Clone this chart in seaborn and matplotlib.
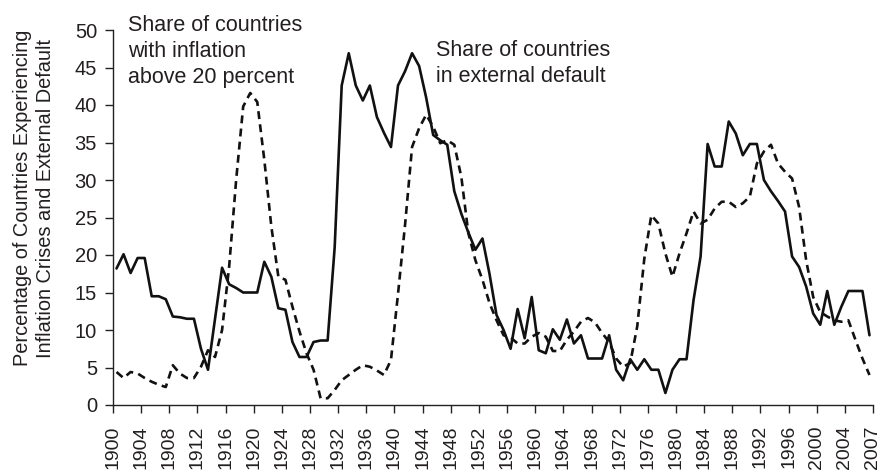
import matplotlib
matplotlib.use("Agg")
import matplotlib.pyplot as plt
import seaborn as sns
import pandas as pd
import numpy as np

years = list(range(1900, 2008))

external_default = [
    18.2, 20.1, 17.6, 19.6, 19.6, 14.5, 14.5, 14.1, 11.8, 11.7,   # 1900-1909
    11.5, 11.5, 7.5, 4.7, 11.5, 18.3, 16.1, 15.6, 15.0, 15.0,     # 1910-1919
    15.0, 19.1, 17.1, 12.9, 12.7, 8.4, 6.4, 6.4, 8.4, 8.6,        # 1920-1929
    8.6, 21.0, 42.6, 46.9, 42.6, 40.6, 42.6, 38.4, 36.3, 34.4,    # 1930-1939
    42.6, 44.5, 46.9, 45.2, 41.0, 36.0, 35.3, 34.7, 28.5, 25.5,   # 1940-1949
    23.0, 20.7, 22.2, 17.5, 12.0, 10.0, 7.5, 12.8, 8.9, 14.4,     # 1950-1959
    7.3, 6.9, 10.1, 8.7, 11.4, 8.2, 9.3, 6.2, 6.2, 6.2,           # 1960-1969
    9.3, 4.7, 3.3, 6.1, 4.7, 6.1, 4.7, 4.7, 1.6, 4.7,             # 1970-1979
    6.1, 6.1, 14.0, 19.8, 34.8, 31.8, 31.8, 37.8, 36.2, 33.3,     # 1980-1989
    34.8, 34.8, 30.0, 28.5, 27.2, 25.8, 19.8, 18.4, 15.8, 12.2,   # 1990-1999
    10.7, 15.2, 10.7, 13.1, 15.2, 15.2, 15.2, 9.3,                # 2000-2007
]

inflation_above_20 = [
    4.4, 3.6, 4.4, 4.2, 3.6, 3.1, 2.7, 2.4, 5.3, 4.2,             # 1900-1909
    3.6, 3.6, 5.1, 7.3, 6.4, 10.0, 18.4, 30.0, 39.8, 41.6,        # 1910-1919
    40.4, 32.7, 23.8, 17.1, 16.7, 13.1, 9.8, 6.9, 4.7, 0.9,       # 1920-1929
    0.9, 2.0, 3.3, 4.0, 4.7, 5.3, 5.1, 4.6, 4.0, 6.0,             # 1930-1939
    14.8, 24.0, 34.4, 36.9, 38.7, 37.1, 34.9, 35.3, 34.7, 30.4,   # 1940-1949
    22.9, 19.3, 16.7, 13.6, 11.3, 9.3, 9.0, 8.2, 8.2, 9.1,        # 1950-1959
    9.6, 9.1, 7.2, 7.2, 8.7, 9.8, 11.1, 11.6, 11.0, 9.6,          # 1960-1969
    8.4, 6.2, 5.1, 5.6, 10.5, 19.5, 25.3, 24.2, 20.2, 17.1,       # 1970-1979
    20.2, 22.9, 25.8, 24.2, 24.7, 26.2, 27.1, 27.1, 26.4, 26.9,   # 1980-1989
    27.8, 32.2, 33.8, 34.7, 32.2, 31.1, 30.2, 26.4, 19.3, 14.4,   # 1990-1999
    12.4, 11.8, 11.3, 11.1, 11.3, 8.7, 6.2, 4.0,                  # 2000-2007
]

tick_years = list(range(1900, 2005, 4)) + [2007]
y_ticks = list(range(0, 51, 5))

annot_inflation = "Share of countries\nwith inflation\nabove 20 percent"
annot_default = "Share of countries\nin external default"
y_label = "Percentage of Countries Experiencing\nInflation Crises and External Default"

df = pd.DataFrame({
    "year": years * 2,
    "value": external_default + inflation_above_20,
    "series": ["default"] * len(years) + ["inflation"] * len(years),
})

sns.set_style("ticks")
plt.rcParams["font.family"] = ["Liberation Sans", "DejaVu Sans"]
TXT = "#231f20"

W, H = 883, 471
fig = plt.figure(figsize=(W / 100, H / 100), dpi=100)
ax = fig.add_axes([113 / W, 1 - 405 / H, 760 / W, 375 / H])

sns.lineplot(data=df, x="year", y="value", style="series",
             dashes={"default": "", "inflation": (3.0, 2.0)},
             color="#111111", linewidth=1.9, legend=False, ax=ax)

ax.set_xlim(1899.5, 2007.5)
ax.set_ylim(0, 50)
tick_pos = [t - 0.5 for t in tick_years[:-1]] + [2007.5]
ax.set_xticks(tick_pos)
ax.set_xticklabels([str(t) for t in tick_years], rotation=90, fontsize=14, color=TXT)
ax.set_yticks(y_ticks)
ax.set_yticklabels([str(v) for v in y_ticks], fontsize=14.5, color=TXT)
ax.set_xlabel("")
ax.set_ylabel("")
ax.tick_params(axis="both", direction="out", length=5.5, width=1.0, color="#222222")
ax.tick_params(axis="x", pad=9)
ax.tick_params(axis="y", pad=6)
sns.despine(ax=ax)
for s in ["left", "bottom"]:
    ax.spines[s].set_linewidth(1.0)
    ax.spines[s].set_color("#222222")

fig.text(128 / W, 1 - 15 / H, annot_inflation, ha="left", va="top",
         fontsize=15.5, color=TXT, linespacing=1.32)
fig.text(436 / W, 1 - 39.5 / H, annot_default, ha="left", va="top",
         fontsize=15.5, color=TXT, linespacing=1.32)
fig.text(34 / W, 1 - 198 / H, y_label, rotation=90, ha="center", va="center",
         multialignment="center", fontsize=14.4, color=TXT, linespacing=1.3)

fig.savefig("out.png", dpi=100)
